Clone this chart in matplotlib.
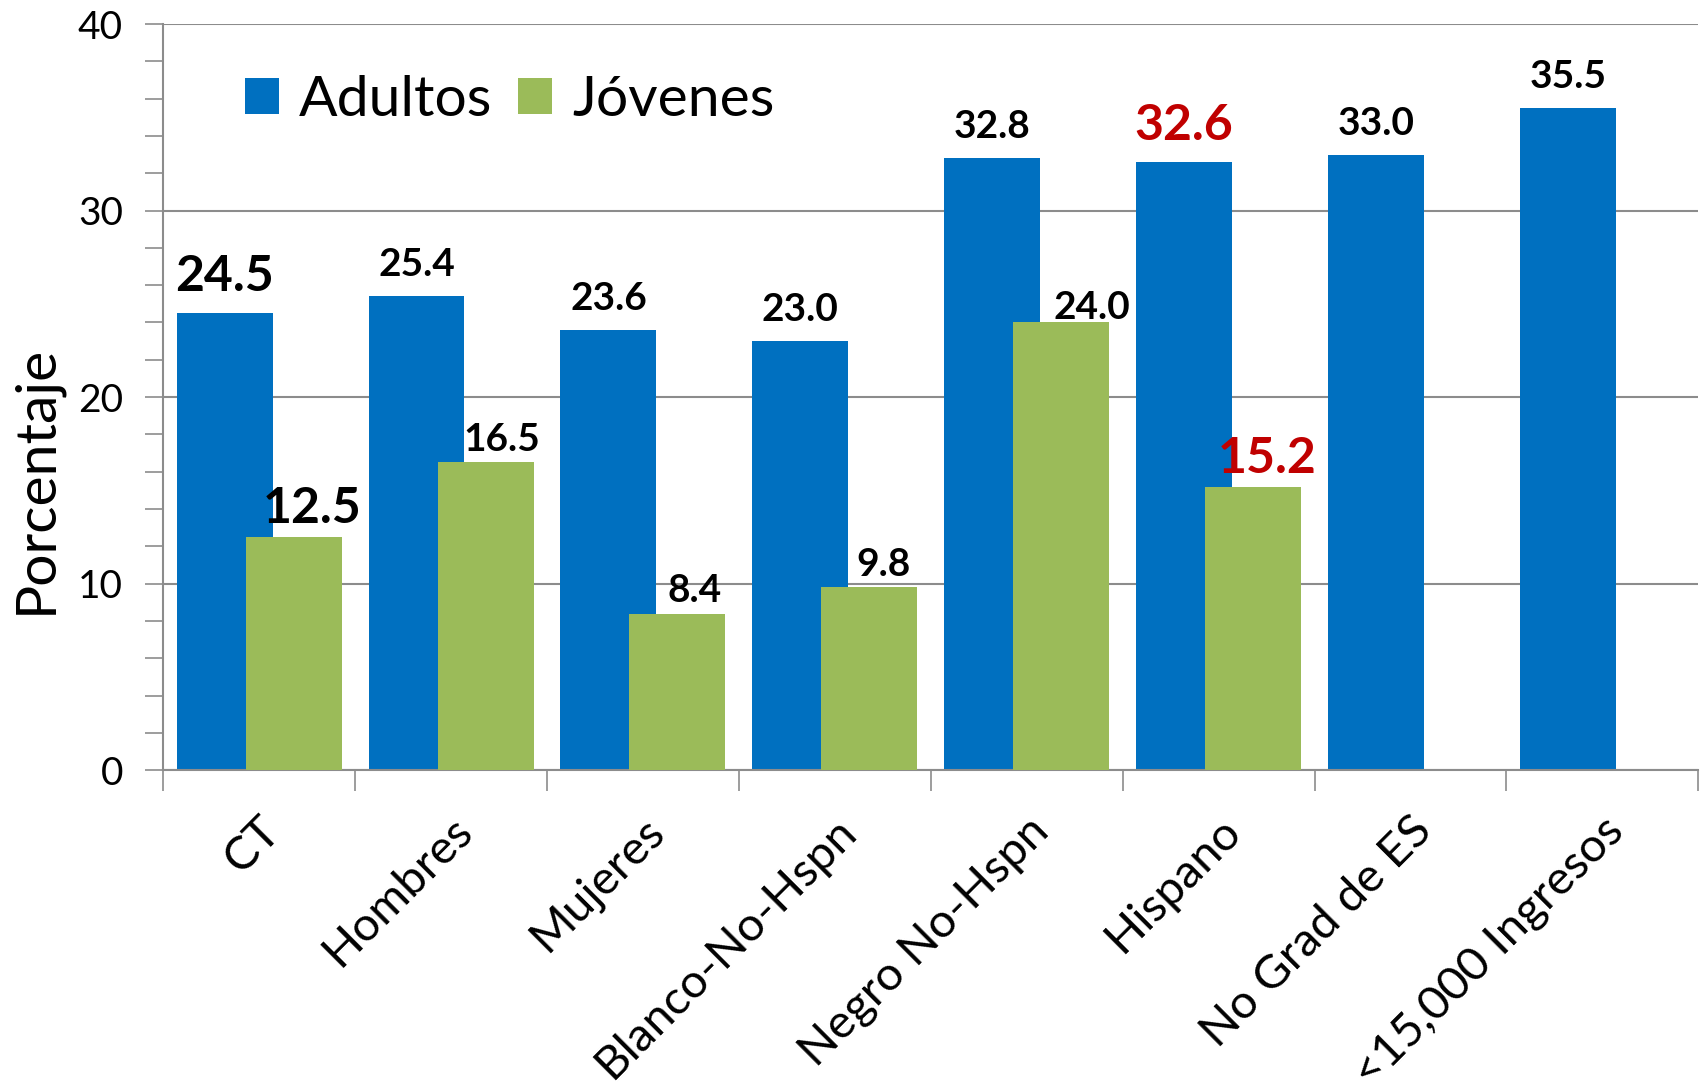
import numpy as np
import matplotlib
matplotlib.use('Agg')
import matplotlib.pyplot as plt
from matplotlib.ticker import MultipleLocator

plt.rcParams['font.family'] = ['Lato', 'DejaVu Sans']

# data
categories = ['CT', 'Hombres', 'Mujeres', 'Blanco-No-Hspn', 'Negro No-Hspn',
              'Hispano', 'No Grad de ES', '<15,000 Ingresos']
adultos = [24.5, 25.4, 23.6, 23.0, 32.8, 32.6, 33.0, 35.5]
jovenes = [12.5, 16.5, 8.4, 9.8, 24.0, 15.2, None, None]

# label styling per bar (size, color, x shift in points, y shift in points)
adultos_style = [(36, 'black', 0, 10), (28, 'black', 0, 10), (28, 'black', 0, 10),
                 (28, 'black', 0, 10), (28, 'black', 0, 10), (36, '#C00000', 0, 10),
                 (28, 'black', 0, 10), (28, 'black', 0, 10)]
jovenes_style = [(36, 'black', 13, 4), (28, 'black', 12, 4), (28, 'black', 12, 4),
                 (28, 'black', 10, 4), (28, 'black', 22, -2), (36, '#C00000', 10, 4),
                 None, None]

blue = '#0070C0'
green = '#9BBB59'
grid_c = '#8C8C8C'

fig = plt.figure(figsize=(17, 10.91), dpi=100)
ax = fig.add_axes([0.096, 0.294, 0.903, 0.684])

x = np.arange(len(categories))
w = 0.5
off = 0.18

ax.bar(x - off, adultos, w, color=blue, label='Adultos', zorder=2)
jx = [xi + off for xi, v in zip(x, jovenes) if v is not None]
jv = [v for v in jovenes if v is not None]
ax.bar(jx, jv, w, color=green, label='Jóvenes', zorder=3)

for xi, v, st in zip(x, adultos, adultos_style):
    ax.annotate(f'{v:.1f}', (xi - off, v), xytext=(st[2], st[3]), textcoords='offset points',
                ha='center', va='bottom', fontsize=st[0], color=st[1],
                fontweight='bold', zorder=5)
for xi, v, st in zip(x, jovenes, jovenes_style):
    if v is None:
        continue
    ax.annotate(f'{v:.1f}', (xi + off, v), xytext=(st[2], st[3]), textcoords='offset points',
                ha='center', va='bottom', fontsize=st[0], color=st[1],
                fontweight='bold', zorder=5)

ax.set_xlim(-0.5, len(categories) - 0.5)
ax.set_ylim(0, 40)
ax.yaxis.set_major_locator(MultipleLocator(10))
ax.yaxis.set_minor_locator(MultipleLocator(2))
ax.grid(axis='y', color=grid_c, linewidth=1.5, zorder=0)
ax.set_axisbelow(True)

ax.set_xticks(np.arange(len(categories) + 1) - 0.5)
ax.set_xticklabels([])
ax.set_xticks(x, minor=True)
ax.set_xticklabels(categories, minor=True, rotation=45, ha='right',
                   rotation_mode='anchor', fontsize=34)
ax.tick_params(axis='x', which='major', length=15, width=1.2, color=grid_c, direction='out')
ax.tick_params(axis='x', which='minor', length=0, pad=28)
ax.tick_params(axis='y', which='both', length=13, width=1.2, color=grid_c,
               direction='out', labelsize=28, pad=16)

for s in ['top', 'right']:
    ax.spines[s].set_visible(False)
for s in ['left', 'bottom']:
    ax.spines[s].set_color(grid_c)
    ax.spines[s].set_linewidth(1.5)

ax.set_ylabel('Porcentaje', fontsize=41)
ax.yaxis.set_label_coords(-0.066, 0.39)

ax.legend(loc='upper left', bbox_to_anchor=(0.02, 1.0), ncol=2, frameon=False,
          fontsize=41, handlelength=0.6, handleheight=0.6, handletextpad=0.35,
          columnspacing=0.45)

fig.savefig('out.png', dpi=100)
